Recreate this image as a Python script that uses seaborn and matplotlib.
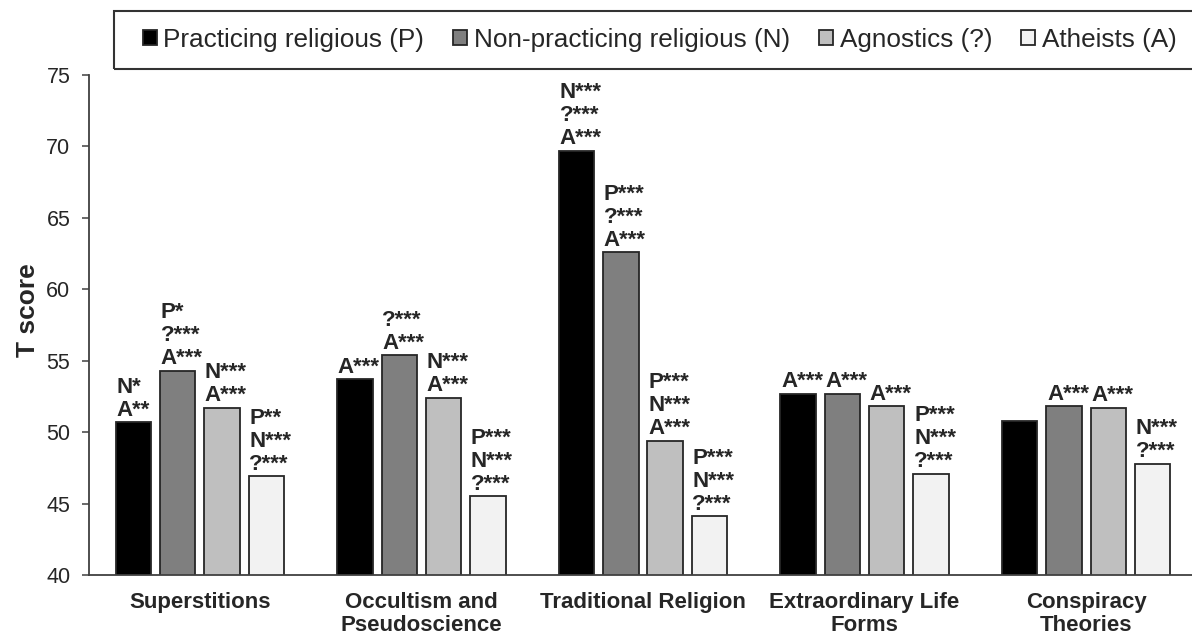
import numpy as np
import pandas as pd
import matplotlib
matplotlib.use("Agg")
import matplotlib.pyplot as plt
from matplotlib.patches import Rectangle
import seaborn as sns

# Mean T scores per belief domain and religiosity group
categories = ["Superstitions", "Occultism and\nPseudoscience", "Traditional Religion",
              "Extraordinary Life\nForms", "Conspiracy\nTheories"]
groups = ["Practicing religious (P)", "Non-practicing religious (N)",
          "Agnostics (?)", "Atheists (A)"]

practicing = [50.7, 53.7, 69.7, 52.7, 50.8]
non_practicing = [54.3, 55.4, 62.6, 52.7, 51.8]
agnostics = [51.7, 52.4, 49.4, 51.8, 51.7]
atheists = [46.9, 45.5, 44.1, 47.1, 47.8]

# Post-hoc significance labels above each bar
sig_practicing = ["N*\nA**", "A***", "N***\n?***\nA***", "A***", ""]
sig_non_practicing = ["P*\n?***\nA***", "?***\nA***", "P***\n?***\nA***", "A***", "A***"]
sig_agnostics = ["N***\nA***", "N***\nA***", "P***\nN***\nA***", "A***", "A***"]
sig_atheists = ["P**\nN***\n?***", "P***\nN***\n?***", "P***\nN***\n?***",
                "P***\nN***\n?***", "N***\n?***"]

y_ticks = [40, 45, 50, 55, 60, 65, 70, 75]

series = [practicing, non_practicing, agnostics, atheists]
sigs = [sig_practicing, sig_non_practicing, sig_agnostics, sig_atheists]

df = pd.DataFrame({
    "category": np.tile(categories, len(groups)),
    "group": np.repeat(groups, len(categories)),
    "score": np.concatenate(series),
})

sns.set_style("white")
plt.rcParams["font.family"] = ["Liberation Sans", "DejaVu Sans"]

W, H = 1192, 637
fig = plt.figure(figsize=(W / 100, H / 100), dpi=100)
ax = fig.add_axes([89 / W, 1 - 575 / H, 1108 / W, 500 / H])

palette = ["#000000", "#7f7f7f", "#bfbfbf", "#f2f2f2"]
sns.barplot(data=df, x="category", y="score", hue="group", order=categories,
            hue_order=groups, palette=palette, edgecolor="#262626", linewidth=1.3,
            width=0.8, gap=0.2, saturation=1, ax=ax)

ax.set_ylim(40, 75)
ax.set_xlim(-0.5, 4.5)
ax.set_yticks(y_ticks)
ax.set_yticklabels([str(t) for t in y_ticks], fontsize=15.5)
ax.tick_params(axis="y", direction="out", length=5, width=1.1, color="#404040",
               left=True, pad=8.5)
ax.tick_params(axis="x", length=0, pad=12)
for lab in ax.get_xticklabels():
    lab.set_fontsize(16)
    lab.set_fontweight("bold")
    lab.set_linespacing(1.15)
ax.set_xlabel("")
ax.set_ylabel("T score", fontsize=19, fontweight="bold")
ax.yaxis.set_label_coords(-0.044, 0.53)

for side in ["top", "right"]:
    ax.spines[side].set_visible(False)
for side in ["left", "bottom"]:
    ax.spines[side].set_color("#404040")
    ax.spines[side].set_linewidth(1.3)

for container, labels in zip(ax.containers, sigs):
    for bar, text in zip(container, labels):
        if text:
            ax.annotate(text, xy=(bar.get_x(), bar.get_height()), xytext=(0.5, 1),
                        textcoords="offset points", ha="left", va="bottom",
                        fontsize=16, fontweight="bold", linespacing=1.13)

# Legend row inside a boxed header
handles, labels = ax.get_legend_handles_labels()
ax.get_legend().remove()
fig.legend(handles, labels, loc="center left",
           bbox_to_anchor=(143 / W, 1 - 40 / H), ncol=4, fontsize=18.8,
           frameon=False, handlelength=0.53, handleheight=0.53,
           handletextpad=0.25, columnspacing=1.12, borderpad=0, borderaxespad=0)
fig.add_artist(Rectangle((114 / W, 1 - 69 / H), 1110 / W, 58 / H,
                         transform=fig.transFigure, fill=False,
                         edgecolor="#333333", linewidth=1.5))

fig.savefig("out.png", dpi=100)
